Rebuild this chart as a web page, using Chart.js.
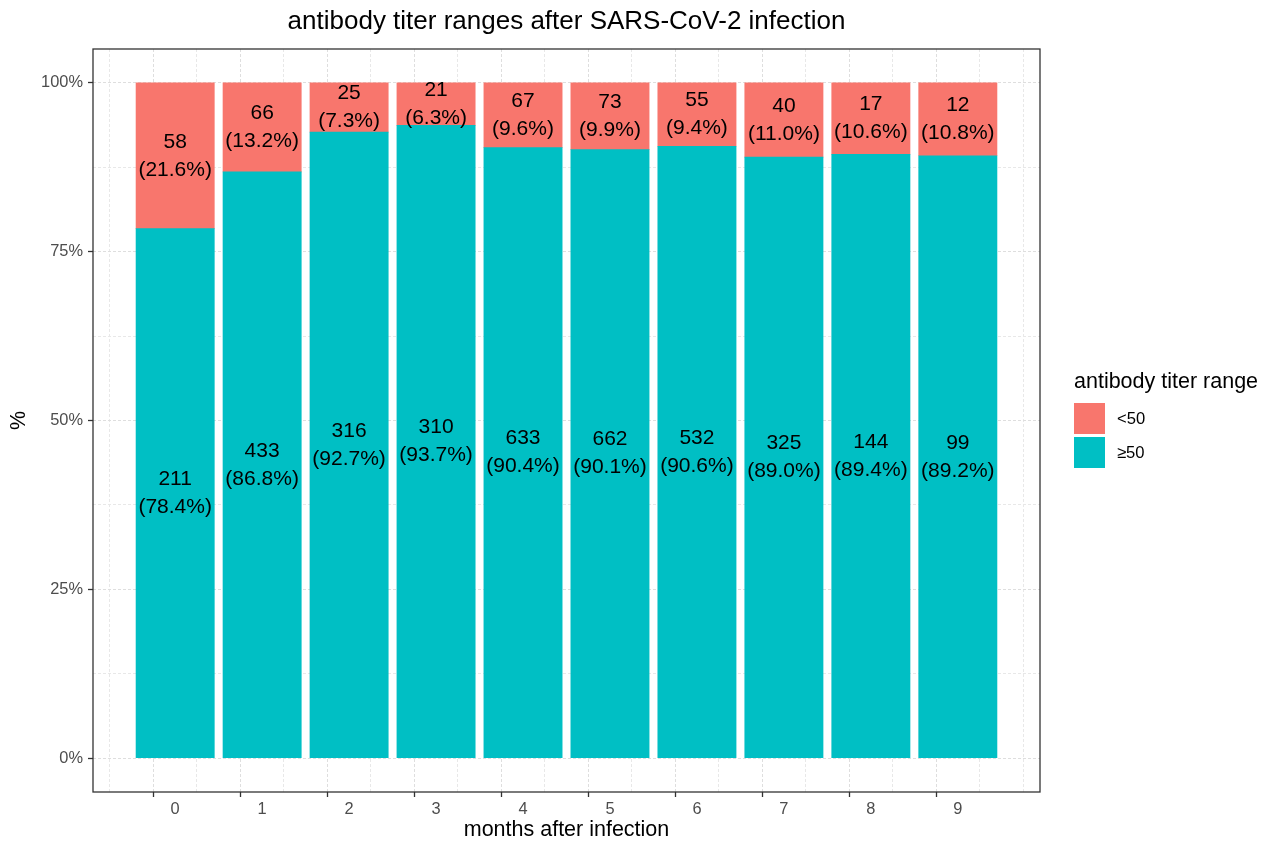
<!DOCTYPE html>
<html>
<head>
<meta charset="utf-8">
<script src="https://cdn.jsdelivr.net/npm/chart.js@4.4.1/dist/chart.umd.min.js"></script>
<style>
html,body{margin:0;padding:0;background:#fff;overflow:hidden}
#wrap{width:1268px;height:843px;position:relative}
canvas{display:block}
</style>
</head>
<body>
<div id="wrap"><canvas id="c" width="1268" height="843"></canvas></div>
<script>
// ---- data ----
const months = [0, 1, 2, 3, 4, 5, 6, 7, 8, 9];
const countHigh = [211, 433, 316, 310, 633, 662, 532, 325, 144, 99];   // >=50
const pctHigh   = [78.4, 86.8, 92.7, 93.7, 90.4, 90.1, 90.6, 89.0, 89.4, 89.2];
const countLow  = [58, 66, 25, 21, 67, 73, 55, 40, 17, 12];           // <50
const pctLow    = [21.6, 13.2, 7.3, 6.3, 9.6, 9.9, 9.4, 11.0, 10.6, 10.8];
const yMajorTicks = [0, 25, 50, 75, 100];
const yMinorTicks = [12.5, 37.5, 62.5, 87.5];
const xMinorTicks = [-0.5, 0.5, 1.5, 2.5, 3.5, 4.5, 5.5, 6.5, 7.5, 8.5, 9.5];
const seriesNames = ['<50', '\u226550'];
const seriesColors = ['#F8766D', '#00BFC4'];
const chartTitle = 'antibody titer ranges after SARS-CoV-2 infection';
const legendTitle = 'antibody titer range';

const FONT = "'Liberation Sans', Arial, Helvetica, sans-serif";

const xAllTicks = months.concat(xMinorTicks).sort((a, b) => a - b);
const yAllTicks = yMajorTicks.concat(yMinorTicks).sort((a, b) => a - b);
const isMajorX = v => months.includes(v);
const isMajorY = v => yMajorTicks.includes(v);
const tickVal = ctx => (ctx && ctx.tick) ? ctx.tick.value : null;

const countsByDataset = [countHigh, countLow];
const pctByDataset = [pctHigh, pctLow];

const decorPlugin = {
  id: 'decor',
  afterDatasetsDraw(chart) {
    const ctx = chart.ctx;
    const ca = chart.chartArea;
    ctx.save();
    ctx.fillStyle = '#000';
    ctx.font = '21px ' + FONT;
    ctx.textAlign = 'center';
    ctx.textBaseline = 'middle';
    chart.data.datasets.forEach((ds, di) => {
      const meta = chart.getDatasetMeta(di);
      meta.data.forEach((el, i) => {
        const cy = (el.y + el.base) / 2;
        ctx.fillText(String(countsByDataset[di][i]), el.x, cy - 14);
        ctx.fillText('(' + pctByDataset[di][i].toFixed(1) + '%)', el.x, cy + 14);
      });
    });
    ctx.strokeStyle = '#333333';
    ctx.lineWidth = 1.3;
    ctx.strokeRect(ca.left, ca.top, ca.right - ca.left, ca.bottom - ca.top);
    ctx.restore();
  },
  afterDraw(chart) {
    const ctx = chart.ctx;
    const ca = chart.chartArea;
    ctx.save();
    ctx.fillStyle = '#000';
    ctx.font = '26px ' + FONT;
    ctx.textAlign = 'center';
    ctx.textBaseline = 'middle';
    ctx.fillText(chartTitle, (ca.left + ca.right) / 2, 22);
    ctx.textAlign = 'left';
    ctx.font = '21.5px ' + FONT;
    ctx.fillText(legendTitle, 1074, 382);
    const keyY = [403, 437];
    seriesNames.forEach((name, i) => {
      ctx.fillStyle = seriesColors[i];
      ctx.fillRect(1074, keyY[i], 31, 31);
      ctx.fillStyle = '#000';
      ctx.font = '16.6px ' + FONT;
      ctx.fillText(name, 1117, keyY[i] + 16);
    });
    ctx.restore();
  }
};

new Chart(document.getElementById('c'), {
  type: 'bar',
  data: {
    datasets: [
      {
        label: seriesNames[1],
        data: months.map((m, i) => ({ x: m, y: pctHigh[i] })),
        backgroundColor: seriesColors[1],
        borderWidth: 0,
        barThickness: 'flex',
        barPercentage: 0.9,
        categoryPercentage: 1.0
      },
      {
        label: seriesNames[0],
        data: months.map((m, i) => ({ x: m, y: pctLow[i] })),
        backgroundColor: seriesColors[0],
        borderWidth: 0,
        barThickness: 'flex',
        barPercentage: 0.9,
        categoryPercentage: 1.0
      }
    ]
  },
  options: {
    responsive: false,
    animation: false,
    devicePixelRatio: 1,
    layout: { padding: { left: 0, right: 228, top: 49, bottom: 0 } },
    plugins: {
      legend: { display: false },
      title: { display: false },
      tooltip: { enabled: false }
    },
    scales: {
      x: {
        type: 'linear',
        stacked: true,
        offset: false,
        min: -0.945,
        max: 9.945,
        afterBuildTicks: s => { s.ticks = xAllTicks.map(v => ({ value: v })); },
        afterFit: s => { s.height = 51; },
        ticks: {
          autoSkip: false,
          maxRotation: 0,
          padding: 3,
          color: '#4d4d4d',
          font: { family: FONT, size: 16.4 },
          callback: v => isMajorX(v) ? String(v) : ''
        },
        grid: {
          color: ctx => isMajorX(tickVal(ctx)) ? '#dedede' : '#e8e8e8',
          lineWidth: 1,
          tickLength: 5,
          tickColor: ctx => isMajorX(tickVal(ctx)) ? '#333333' : 'rgba(0,0,0,0)',
          tickWidth: 1.3
        },
        border: { display: false, dash: [3, 2] },
        title: {
          display: true,
          text: 'months after infection',
          color: '#000',
          font: { family: FONT, size: 21.5 },
          padding: { top: 0, bottom: 0 }
        }
      },
      y: {
        type: 'linear',
        stacked: true,
        min: -5,
        max: 105,
        afterBuildTicks: s => { s.ticks = yAllTicks.map(v => ({ value: v })); },
        afterFit: s => { s.width = 93; },
        ticks: {
          autoSkip: false,
          padding: 5,
          color: '#4d4d4d',
          font: { family: FONT, size: 16.4 },
          callback: v => isMajorY(v) ? v + '%' : ''
        },
        grid: {
          color: ctx => isMajorY(tickVal(ctx)) ? '#dedede' : '#e8e8e8',
          lineWidth: 1,
          tickLength: 5,
          tickColor: ctx => isMajorY(tickVal(ctx)) ? '#333333' : 'rgba(0,0,0,0)',
          tickWidth: 1.3
        },
        border: { display: false, dash: [3, 2] },
        title: {
          display: true,
          text: '%',
          color: '#000',
          font: { family: FONT, size: 21.5 },
          padding: { top: 6, bottom: 0 }
        }
      }
    }
  },
  plugins: [decorPlugin]
});
</script>
</body>
</html>
